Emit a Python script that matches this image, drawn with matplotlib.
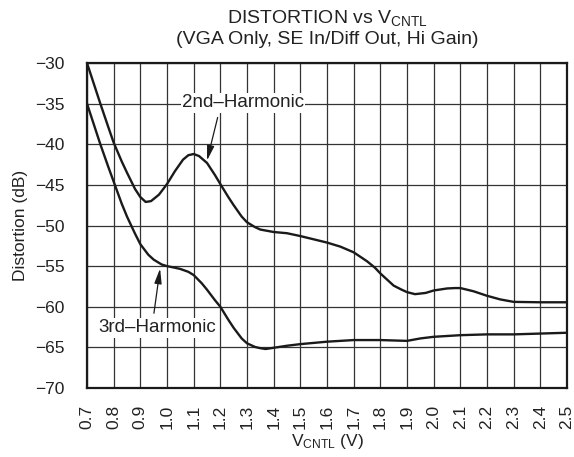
import matplotlib as mpl
mpl.use('Agg')
import matplotlib.pyplot as plt

plt.rcParams['font.family'] = ['Liberation Sans', 'DejaVu Sans']
plt.rcParams['mathtext.fontset'] = 'custom'
plt.rcParams['mathtext.rm'] = 'Liberation Sans'
plt.rcParams['mathtext.it'] = 'Liberation Sans:italic'
plt.rcParams['mathtext.default'] = 'regular'

# 2nd harmonic
v2 = [0.70, 0.73, 0.75, 0.78, 0.80, 0.83, 0.85, 0.88, 0.90, 0.92, 0.94, 0.97,
      1.00, 1.03, 1.06, 1.08, 1.10, 1.12, 1.15, 1.18, 1.20, 1.23, 1.25, 1.28,
      1.30, 1.33, 1.35, 1.40, 1.45, 1.50, 1.55, 1.60, 1.65, 1.70, 1.75, 1.78,
      1.80, 1.83, 1.85, 1.88, 1.90, 1.93, 1.97, 2.00, 2.05, 2.08, 2.10, 2.15,
      2.20, 2.25, 2.30, 2.40, 2.50]
d2 = [-30.0, -33.0, -35.0, -37.9, -39.8, -42.1, -43.5, -45.5, -46.5, -47.1, -47.0, -46.2,
      -44.9, -43.3, -41.9, -41.35, -41.2, -41.45, -42.3, -43.8, -44.9, -46.5, -47.5, -48.9,
      -49.6, -50.2, -50.5, -50.8, -50.95, -51.3, -51.7, -52.1, -52.6, -53.3, -54.4, -55.2,
      -55.9, -56.8, -57.4, -57.9, -58.2, -58.45, -58.3, -58.0, -57.75, -57.7, -57.7, -58.1,
      -58.65, -59.1, -59.4, -59.45, -59.45]

# 3rd harmonic
v3 = [0.70, 0.73, 0.75, 0.78, 0.80, 0.83, 0.85, 0.88, 0.90, 0.93, 0.95, 0.98,
      1.00, 1.03, 1.05, 1.08, 1.10, 1.13, 1.15, 1.18, 1.20, 1.23, 1.25, 1.28,
      1.30, 1.33, 1.35, 1.37, 1.40, 1.45, 1.50, 1.55, 1.60, 1.70, 1.80, 1.90,
      1.95, 2.00, 2.10, 2.20, 2.30, 2.40, 2.50]
d3 = [-35.0, -38.0, -40.0, -42.8, -44.6, -47.3, -48.9, -51.0, -52.3, -53.6, -54.2, -54.8,
      -55.0, -55.2, -55.35, -55.7, -56.1, -57.1, -57.9, -59.2, -60.0, -61.6, -62.6, -63.9,
      -64.5, -64.95, -65.1, -65.2, -65.05, -64.8, -64.6, -64.45, -64.3, -64.1, -64.1, -64.2,
      -63.9, -63.7, -63.5, -63.4, -63.4, -63.3, -63.2]

xticks = [0.7 + 0.1 * i for i in range(19)]
yticks = [-30, -35, -40, -45, -50, -55, -60, -65, -70]

fig = plt.figure(figsize=(5.74, 4.57), dpi=100)
ax = fig.add_axes([87 / 574, 69 / 457, 480 / 574, 325 / 457])

ax.plot(v2, d2, color='#1a1a1a', lw=1.7, zorder=3, solid_joinstyle='round')
ax.plot(v3, d3, color='#1a1a1a', lw=1.7, zorder=3, solid_joinstyle='round')

fs = 12.5
ax.set_xlim(0.7, 2.5)
ax.set_ylim(-70, -30)
ax.set_xticks(xticks)
ax.set_xticklabels(['%.1f' % x for x in xticks], rotation=90)
ax.set_yticks(yticks)
ax.set_yticklabels([('%d' % y).replace('-', '\u2212') for y in yticks])
ax.tick_params(length=0, labelsize=fs, colors='#222222')
ax.tick_params(axis='y', pad=16)
ax.tick_params(axis='x', pad=12)
ax.grid(True, color='#333333', lw=0.9)
for s in ax.spines.values():
    s.set_linewidth(1.6)
    s.set_color('#1a1a1a')

ax.set_xlabel('V$_{CNTL}$ (V)', fontsize=fs, color='#222222', labelpad=2)
ax.set_ylabel('Distortion (dB)', fontsize=fs, color='#222222', labelpad=5)

fig.text(327 / 574, 1 - 18 / 457, 'DISTORTION vs V$_{CNTL}$', ha='center', va='center',
         fontsize=14, color='#222222')
fig.text(327 / 574, 1 - 40 / 457, '(VGA Only, SE In/Diff Out, Hi Gain)', ha='center',
         va='center', fontsize=14, color='#222222')

box = dict(facecolor='white', edgecolor='none', pad=1.0)
ax.text(1.285, -34.9, '2nd\u2013Harmonic', ha='center', va='center', fontsize=13.5,
        color='#222222', bbox=box, zorder=4)
ax.text(0.962, -62.6, '3rd\u2013Harmonic', ha='center', va='center', fontsize=13.5,
        color='#222222', bbox=box, zorder=4)

arrow = dict(arrowstyle='-|>,head_length=0.9,head_width=0.22', color='#1a1a1a',
             lw=0.9, shrinkA=0, shrinkB=0)
ax.annotate('', xy=(1.15, -42.0), xytext=(1.19, -36.7), arrowprops=arrow, zorder=5)
ax.annotate('', xy=(0.974, -55.3), xytext=(0.951, -60.8), arrowprops=arrow, zorder=5)

fig.savefig('out.png', dpi=100)
